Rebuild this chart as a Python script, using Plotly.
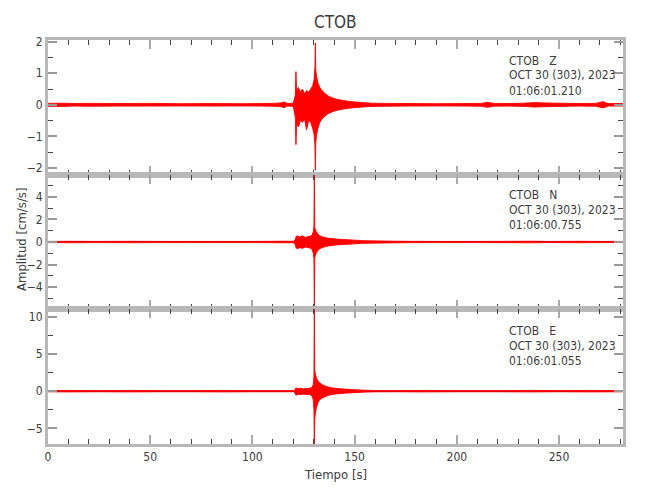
import plotly.graph_objects as go
from plotly.subplots import make_subplots

# ---------------- data (envelopes) ----------------
station = "CTOB"
components = ["Z", "N", "E"]
date_label = "OCT 30 (303), 2023"
start_times = ["01:06:01.210", "01:06:00.755", "01:06:01.055"]

z_time = [0, 8, 12, 20, 35, 50, 65, 80, 95, 105,
          110, 114, 115.5, 117, 120, 121.0, 121.3, 121.6, 122.5, 123.5,
          124.5, 125.5, 126.5, 127.5, 128.5, 129.5, 130.2, 130.6, 130.8, 131.0,
          131.4, 132.0, 133, 134, 135.5, 137, 139, 141, 144, 147,
          150, 154, 158, 165, 175, 190, 205, 212, 215, 218,
          225, 233, 238, 243, 250, 260, 268, 271.5, 274, 282]
z_upper = [0.045, 0.05, 0.04, 0.045, 0.04, 0.045, 0.035, 0.04, 0.035, 0.04,
           0.045, 0.06, 0.09, 0.04, 0.05, 0.30, 1.05, 0.45, 0.55, 0.40,
           0.50, 0.35, 0.45, 0.40, 0.50, 0.60, 0.80, 1.20, 1.95, 1.10,
           0.90, 0.70, 0.55, 0.45, 0.36, 0.28, 0.22, 0.18, 0.14, 0.11,
           0.09, 0.07, 0.05, 0.045, 0.04, 0.035, 0.04, 0.045, 0.08, 0.045,
           0.04, 0.05, 0.07, 0.06, 0.05, 0.04, 0.045, 0.10, 0.04, 0.04]
z_lower = [-0.045, -0.05, -0.04, -0.045, -0.04, -0.04, -0.035, -0.04, -0.035, -0.04,
           -0.045, -0.06, -0.09, -0.04, -0.05, -0.40, -1.26, -0.60, -0.70, -0.50,
           -0.55, -0.45, -0.80, -0.50, -0.55, -0.75, -0.95, -1.30, -2.07, -1.20,
           -0.95, -0.75, -0.55, -0.45, -0.36, -0.28, -0.22, -0.18, -0.14, -0.11,
           -0.09, -0.07, -0.05, -0.045, -0.04, -0.035, -0.04, -0.045, -0.08, -0.045,
           -0.04, -0.05, -0.07, -0.06, -0.05, -0.04, -0.045, -0.10, -0.04, -0.04]

n_time = [0, 10, 25, 40, 55, 70, 85, 100, 110, 116,
          120, 121.0, 121.3, 121.8, 123, 124.5, 126, 127.5, 129, 129.8,
          130.1, 130.3, 130.5, 130.8, 131.3, 132, 133, 134, 135.5, 137,
          139, 141, 144, 147, 150, 154, 158, 165, 175, 190,
          210, 230, 236, 245, 260, 270, 282]
n_upper = [0.05, 0.06, 0.05, 0.06, 0.05, 0.05, 0.05, 0.05, 0.06, 0.07,
           0.06, 0.20, 0.45, 0.55, 0.45, 0.55, 0.40, 0.50, 0.55, 0.90,
           1.40, 6.30, 1.30, 1.10, 0.90, 0.70, 0.55, 0.47, 0.40, 0.33,
           0.30, 0.26, 0.22, 0.20, 0.16, 0.12, 0.10, 0.08, 0.06, 0.05,
           0.05, 0.06, 0.07, 0.05, 0.06, 0.05, 0.05]
n_lower = [-0.05, -0.06, -0.05, -0.06, -0.05, -0.05, -0.05, -0.05, -0.06, -0.07,
           -0.06, -0.25, -0.50, -0.60, -0.50, -0.55, -0.45, -0.50, -0.60, -1.00,
           -1.45, -5.70, -1.40, -1.20, -0.95, -0.75, -0.60, -0.50, -0.42, -0.35,
           -0.30, -0.26, -0.22, -0.20, -0.16, -0.12, -0.10, -0.08, -0.06, -0.05,
           -0.05, -0.06, -0.07, -0.05, -0.06, -0.05, -0.05]

e_time = [0, 10, 25, 40, 55, 70, 85, 100, 110, 116,
          120.5, 121.0, 121.3, 122, 123.5, 125, 126.5, 128, 129.2, 129.8,
          130.1, 130.3, 130.5, 130.8, 131.3, 132, 132.8, 134, 135.5, 136.8,
          138.5, 141.6, 145, 149.8, 155.5, 160, 170, 185, 200, 220,
          236, 250, 265, 282]
e_upper = [0.08, 0.10, 0.08, 0.10, 0.08, 0.08, 0.10, 0.08, 0.08, 0.08,
           0.08, 0.30, 0.45, 0.35, 0.40, 0.30, 0.35, 0.40, 0.50, 0.90,
           2.00, 11.5, 2.80, 2.30, 1.80, 1.40, 1.15, 0.90, 0.70, 0.60,
           0.45, 0.35, 0.28, 0.20, 0.12, 0.09, 0.08, 0.10, 0.08, 0.08,
           0.10, 0.08, 0.10, 0.08]
e_lower = [-0.08, -0.10, -0.08, -0.10, -0.08, -0.08, -0.10, -0.08, -0.08, -0.08,
           -0.08, -0.40, -0.55, -0.45, -0.45, -0.40, -0.45, -0.45, -0.60, -1.20,
           -2.50, -7.30, -3.70, -3.00, -2.20, -1.60, -1.20, -0.95, -0.75, -0.60,
           -0.45, -0.35, -0.28, -0.20, -0.12, -0.09, -0.08, -0.10, -0.08, -0.08,
           -0.10, -0.08, -0.10, -0.08]

y_ranges = [[-2.21, 2.05], [-5.96, 5.96], [-7.1, 11.0]]
y_dticks = [1, 2, 5]
y_minor = [0.5, 1, 2.5]
x_range = [0, 281.3]

# ---------------- figure ----------------
FONT = "Liberation Sans Narrow, DejaVu Sans Condensed, Roboto, sans-serif"
TXT = "#3c3c3c"
OFF = 8                      # page body margin offset
W, H = 650 - OFF, 500 - OFF
ML, MR, MT, MB = 48 - OFF, 27, 40 - OFF, 56
PW, PH = W - ML - MR, H - MT - MB

fig = make_subplots(rows=3, cols=1, shared_xaxes=True, vertical_spacing=0)

series = [(z_time, z_upper, z_lower), (n_time, n_upper, n_lower), (e_time, e_upper, e_lower)]
for i, (t, up, lo) in enumerate(series):
    xs = list(t) + list(reversed(t)) + [t[0]]
    ys = list(up) + list(reversed(lo)) + [up[0]]
    fig.add_trace(go.Scatter(x=xs, y=ys, mode="lines", fill="toself",
                             fillcolor="#ff0000",
                             line=dict(color="#ff0000", width=0.9, simplify=False),
                             showlegend=False, hoverinfo="skip"), row=i + 1, col=1)

for i in range(3):
    r = i + 1
    fig.update_xaxes(range=x_range, dtick=50, tick0=0, ticks="inside", ticklen=9,
                     tickwidth=2, tickcolor="#aaaaaa", showline=True,
                     linecolor="#b8b8b8", linewidth=3, mirror="ticks",
                     showgrid=False, zeroline=False,
                     minor=dict(dtick=10, tick0=0, ticks="inside", ticklen=5,
                                tickwidth=1, tickcolor="#444444"),
                     showticklabels=(r == 3),
                     tickfont=dict(family=FONT, size=12, color=TXT),
                     row=r, col=1)
    fig.update_yaxes(range=y_ranges[i], dtick=y_dticks[i], tick0=0, ticks="inside",
                     ticklen=9, tickwidth=2, tickcolor="#999999", showline=True,
                     linecolor="#b8b8b8", linewidth=3, mirror="ticks",
                     showgrid=False, zeroline=True, zerolinecolor="#000000",
                     zerolinewidth=1,
                     minor=dict(dtick=y_minor[i], tick0=0, ticks="inside",
                                ticklen=5, tickwidth=1, tickcolor="#444444"),
                     tickfont=dict(family=FONT, size=12, color=TXT),
                     row=r, col=1)

def px_to_paper_y(py):
    return 1 - (py - OFF - MT) / PH

def px_to_paper_x(px):
    return (px - OFF - ML) / PW

annots = []
annots.append(dict(text=station, x=0.5, y=px_to_paper_y(22), xref="paper", yref="paper",
                   xanchor="center", yanchor="middle", showarrow=False,
                   font=dict(family=FONT, size=17, color=TXT)))
annots.append(dict(text="Tiempo [s]", x=0.5, y=px_to_paper_y(474), xref="paper", yref="paper",
                   xanchor="center", yanchor="middle", showarrow=False,
                   font=dict(family=FONT, size=13, color=TXT)))
annots.append(dict(text="Amplitud [cm/s/s]", x=px_to_paper_x(21), y=px_to_paper_y(240),
                   xref="paper", yref="paper", xanchor="center", yanchor="middle",
                   textangle=-90, showarrow=False,
                   font=dict(family=FONT, size=13, color=TXT)))
label_rows = [[61, 75.5, 90.5], [195, 210, 225], [331, 346, 361]]
for i, comp in enumerate(components):
    lines = [station + "\u00a0\u00a0\u00a0" + comp, date_label, start_times[i]]
    for txt, py in zip(lines, label_rows[i]):
        annots.append(dict(text=txt, x=px_to_paper_x(507), y=px_to_paper_y(py),
                           xref="paper", yref="paper", xanchor="left", yanchor="middle",
                           showarrow=False,
                           font=dict(family=FONT, size=12, color=TXT)))

fig.update_layout(width=W, height=H, margin=dict(l=ML, r=MR, t=MT, b=MB),
                  paper_bgcolor="white", plot_bgcolor="white",
                  annotations=annots, showlegend=False)

fig.write_html("out.html")
